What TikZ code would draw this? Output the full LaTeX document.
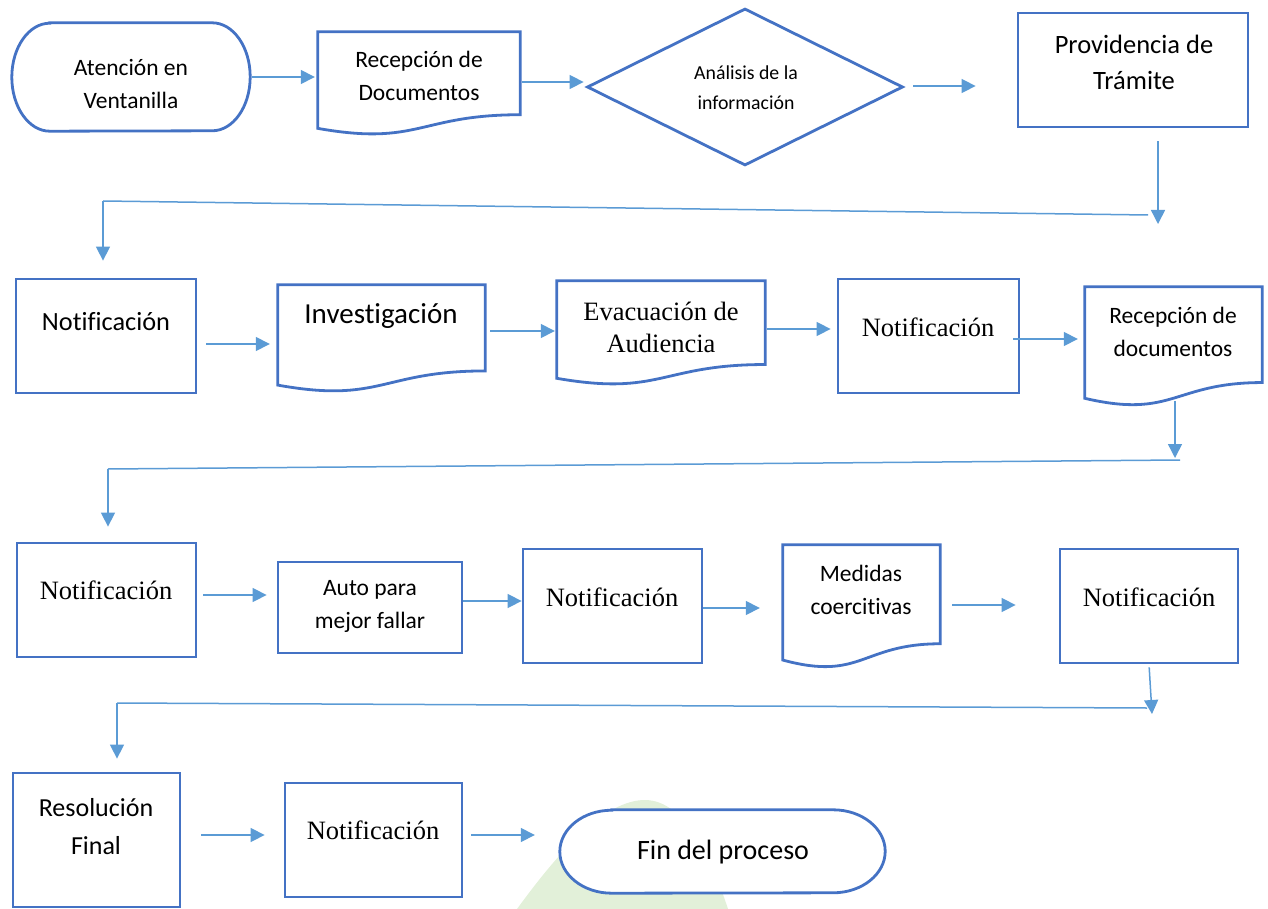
\documentclass[tikz,border=0pt]{standalone}
\usepackage{fontspec}
\newfontfamily\calfont[Ligatures={NoCommon}]{Carlito}
\newfontfamily\timesfont{Liberation Serif}
\usetikzlibrary{arrows.meta,calc,shapes.geometric}
\definecolor{shpblue}{HTML}{4472C4}
\definecolor{arrblue}{HTML}{5B9BD5}
\definecolor{wmgreen}{HTML}{E2F0D9}
\newcommand\docpath[1]{\draw[shp] (#1.north west) -- (#1.north east) -- ($(#1.north east)!0.802!(#1.south east)$) .. controls ($(#1.north)!0.802!(#1.south)$) and ($(#1.north)!1.1075!(#1.south)$) .. ($(#1.north west)!0.934!(#1.south west)$) -- cycle;}
\newcommand\termpath[3]{\draw[shp] ([xshift=#2pt]#1.north west) -- ([xshift=-#2pt]#1.north east) arc[start angle=-90,end angle=90,x radius=#2,y radius=#3] -- ([xshift=#2pt]#1.south west) arc[start angle=90,end angle=270,x radius=#2,y radius=#3] -- cycle;}
\begin{document}
\begin{tikzpicture}[x=1pt,y=-1pt,
  shp/.style={draw=shpblue, line width=2.8pt, fill=white},
  box/.style={shp, rectangle, inner sep=0pt},
  ghost/.style={rectangle, inner sep=0pt},
  arr/.style={draw=arrblue, line width=1.5pt, -{Triangle[length=14pt,width=14pt]}},
  conn/.style={draw=arrblue, line width=1.5pt},
  lbl/.style={inner sep=0pt, align=center, text=black},
  cal/.style={lbl, font=\calfont\fontsize{#1}{33}\selectfont},
  tms/.style={lbl, font=\timesfont\fontsize{#1}{32}\selectfont}]
\useasboundingbox (0,0) rectangle (1268,909);
\fill[wmgreen] (517,909) .. controls (560,850) and (605,800) .. (645,800) .. controls (685,800) and (712,860) .. (728,909) -- cycle;

% row 1
\node[ghost, minimum width=238pt, minimum height=108pt] (n1) at (131,77) {};
\termpath{n1}{38}{54}
\node[cal=23.5] (t1) at (131,84) {Atención en\\Ventanilla};
\node[ghost, minimum width=202pt, minimum height=103pt] (n2) at (419,83.5) {};
\docpath{n2}
\node[cal=23.5] (t2) at (419,76) {Recepción de\\Documentos};
\node[shp, diamond, aspect=2, minimum width=316pt, minimum height=157pt, inner sep=0pt] (n3) at (745,87) {};
\node[lbl, font=\calfont\fontsize{19.8}{30}\selectfont] (t3) at (746,88) {Análisis de la\\información};
\node[box, minimum width=230pt, minimum height=114pt] (n4) at (1133,70) {};
\node[lbl, font=\calfont\fontsize{26.5}{36}\selectfont] (t4) at (1134,62) {Providencia de\\Trámite};

% row 2
\node[box, minimum width=180pt, minimum height=114pt] (n5) at (106,336) {};
\node[cal=26.3] (t5) at (106,322) {Notificación};
\node[ghost, minimum width=207pt, minimum height=107pt] (n6) at (381.5,338.5) {};
\docpath{n6}
\node[cal=29] (t6) at (381,316) {Investigación};
\node[ghost, minimum width=208pt, minimum height=104pt] (n7) at (661,333) {};
\docpath{n7}
\node[tms=26.5] (t7) at (661,327) {Evacuación de\\Audiencia};
\node[box, minimum width=181pt, minimum height=114pt] (n8) at (928.5,336) {};
\node[tms=26.5] (t8) at (928,327) {Notificación};
\node[ghost, minimum width=177pt, minimum height=119pt] (n9) at (1173.5,346.5) {};
\docpath{n9}
\node[cal=23.5] (t9) at (1173,332) {Recepción de\\documentos};

% row 3
\node[box, minimum width=179pt, minimum height=114pt] (n10) at (106.5,600) {};
\node[tms=26.5] (t10) at (106,590) {Notificación};
\node[box, minimum width=184pt, minimum height=91pt] (n11) at (370,607.5) {};
\node[cal=23.5] (t11) at (370,606) {Auto para\\mejor fallar};
\node[box, minimum width=179pt, minimum height=114pt] (n12) at (612.5,606) {};
\node[tms=26.5] (t12) at (612,597) {Notificación};
\node[ghost, minimum width=157pt, minimum height=123pt] (n13) at (861.5,606.5) {};
\docpath{n13}
\node[cal=23.5] (t13) at (861,590) {Medidas\\coercitivas};
\node[box, minimum width=178pt, minimum height=114pt] (n14) at (1149,606) {};
\node[tms=26.5] (t14) at (1149,597) {Notificación};

% row 4
\node[box, minimum width=167pt, minimum height=134pt] (n15) at (96.5,840) {};
\node[lbl, font=\calfont\fontsize{26}{38}\selectfont] (t15) at (96,827) {Resolución\\Final};
\node[box, minimum width=177pt, minimum height=114pt] (n16) at (373.5,840) {};
\node[tms=26.5] (t16) at (373,830) {Notificación};
\node[ghost, minimum width=325pt, minimum height=83pt] (n17) at (722.5,851.5) {};
\termpath{n17}{52}{41.5}
\node[cal=28] (t17) at (723,852) {Fin del proceso};

% horizontal arrows
\draw[arr, shorten <=2pt, shorten >=3pt] (n1.east |- 0,77) -- (n2.west |- 0,77);
\draw[arr, shorten <=2pt, shorten >=2pt] (n2.east |- 0,82) -- (n3.west |- 0,82);
\draw[arr, shorten <=9pt, shorten >=41pt] (n3.east |- 0,86) -- (n4.west |- 0,86);
\draw[arr, shorten <=9pt, shorten >=8pt] (n5.east |- 0,344) -- (n6.west |- 0,344);
\draw[arr, shorten <=5pt, shorten >=2pt] (n6.east |- 0,331) -- (n7.west |- 0,331);
\draw[arr, shorten <=2pt, shorten >=6pt] (n7.east |- 0,329) -- (n8.west |- 0,329);
\draw[arr, shorten <=-7pt, shorten >=7pt] (n8.east |- 0,339) -- (n9.west |- 0,339);
\draw[arr, shorten <=6pt, shorten >=10pt] (n10.east |- 0,595) -- (n11.west |- 0,595);
\draw[arr, shorten <=0pt, shorten >=0pt] (n11.east |- 0,601) -- (n12.west |- 0,601);
\draw[arr, shorten <=0pt, shorten >=23pt] (n12.east |- 0,608) -- (n13.west |- 0,608);
\draw[arr, shorten <=12pt, shorten >=43pt] (n13.east |- 0,605) -- (n14.west |- 0,605);
\draw[arr, shorten <=20pt, shorten >=19pt] (n15.east |- 0,835) -- (n16.west |- 0,835);
\draw[arr, shorten <=8pt, shorten >=25pt] (n16.east |- 0,835) -- (n17.west |- 0,835);

% row-to-row connectors
\coordinate (e1) at (1158,224);
\draw[arr, shorten <=13pt] (n4.south -| e1) -- (e1);
\coordinate (k1) at (1148,215);
\coordinate (k2) at (103,201);
\draw[conn] (k1) -- (k2);
\draw[arr, shorten >=17pt] (k2) -- (k2 |- n5.north);

\coordinate (e2) at (1175,458);
\draw[arr, shorten <=-5pt] (n9.south -| e2) -- (e2);
\coordinate (k3) at (1180,460);
\coordinate (k4) at (108,469);
\draw[conn] (k3) -- (k4);
\draw[arr, shorten >=15pt] (k4) -- (k4 |- n10.north);

\coordinate (e3) at (1152,714);
\draw[arr, shorten <=3pt] (n14.south) -- (e3);
\coordinate (k5) at (1147,708);
\coordinate (k6) at (117,703);
\draw[conn] (k5) -- (k6);
\draw[arr, shorten >=13pt] (k6) -- (k6 |- n15.north);
\end{tikzpicture}
\end{document}
